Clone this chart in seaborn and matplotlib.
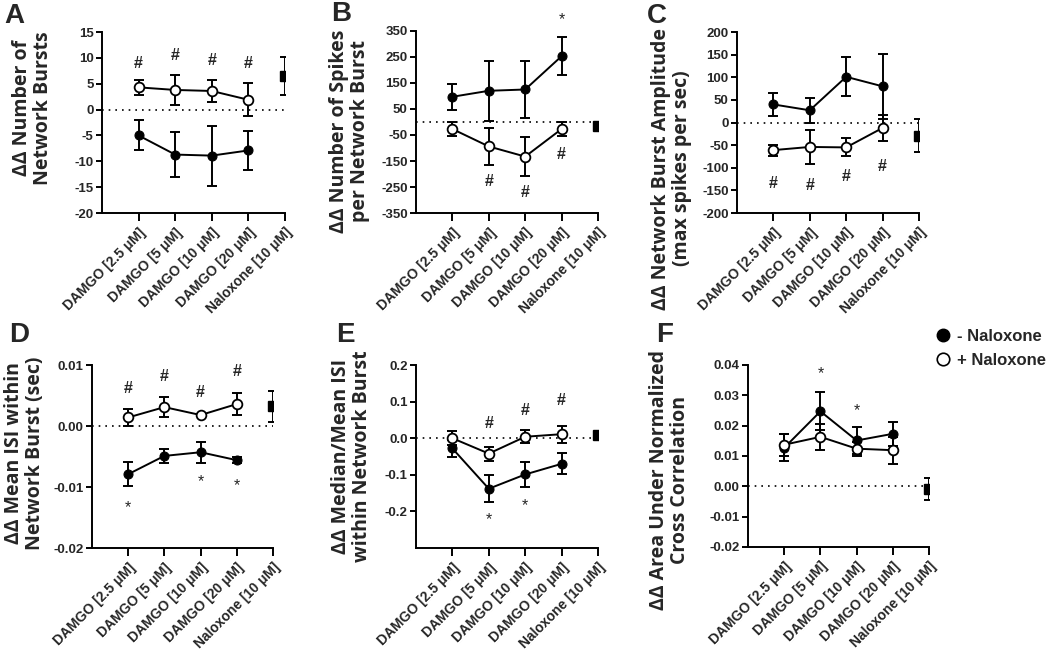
import numpy as np
import matplotlib
matplotlib.use("Agg")
import matplotlib.pyplot as plt
import matplotlib.transforms as mtransforms
from matplotlib.lines import Line2D
import seaborn as sns

# x categories
categories = ["DAMGO [2.5 μM]", "DAMGO [5 μM]", "DAMGO [10 μM]", "DAMGO [20 μM]", "Naloxone [10 μM]"]

# A - number of network bursts
a_minus = [-5.0, -8.7, -8.9, -7.9]
a_minus_err = [2.9, 4.4, 5.8, 3.8]
a_plus = [4.3, 3.8, 3.6, 1.9]
a_plus_err = [1.5, 2.95, 2.05, 3.15]
a_nal, a_nal_err = 6.5, 3.75

# B - spikes per network burst
b_minus = [97, 120, 125, 253]
b_minus_err = [49, 115, 108, 72]
b_plus = [-27, -94, -133, -27]
b_plus_err = [27, 71, 75, 28]
b_nal, b_nal_err = -15, 12

# C - network burst amplitude
c_minus = [40, 27, 101, 80]
c_minus_err = [25, 27, 43, 72]
c_plus = [-61, -54, -55, -12]
c_plus_err = [12, 38, 20, 29]
c_nal, c_nal_err = -29, 37

# D - mean ISI within network burst
d_minus = [-0.0079, -0.0049, -0.0043, -0.0056]
d_minus_err = [0.0020, 0.0011, 0.0017, 0.0005]
d_plus = [0.0014, 0.0031, 0.0018, 0.0036]
d_plus_err = [0.0014, 0.0016, 0.0002, 0.0018]
d_nal, d_nal_err = 0.0032, 0.0025

# E - median/mean ISI
e_minus = [-0.028, -0.138, -0.099, -0.070]
e_minus_err = [0.023, 0.037, 0.035, 0.029]
e_plus = [0.0, -0.042, 0.004, 0.011]
e_plus_err = [0.019, 0.019, 0.018, 0.023]
e_nal, e_nal_err = 0.009, 0.006

# F - area under normalized cross correlation
f_minus = [0.0127, 0.0247, 0.0151, 0.0173]
f_minus_err = [0.0045, 0.0063, 0.0043, 0.0039]
f_plus = [0.0137, 0.0163, 0.0124, 0.0119]
f_plus_err = [0.0037, 0.0042, 0.0023, 0.0044]
f_nal, f_nal_err = -0.0009, 0.0037

# significance marks (category index, y, symbol)
a_marks = [(0, 8.9, "#"), (1, 10.5, "#"), (2, 9.5, "#"), (3, 8.9, "#")]
b_marks = [(1, -229, "#"), (2, -271, "#"), (3, -126, "#"), (3, 392, "*")]
c_marks = [(0, -134, "#"), (1, -140, "#"), (2, -120, "#"), (3, -98, "#")]
d_marks = [(0, 0.0061, "#"), (1, 0.0081, "#"), (2, 0.0055, "#"), (3, 0.0089, "#"),
           (0, -0.0133, "*"), (2, -0.0091, "*"), (3, -0.0097, "*")]
e_marks = [(1, 0.040, "#"), (2, 0.077, "#"), (3, 0.103, "#"), (1, -0.222, "*"), (2, -0.183, "*")]
f_marks = [(1, 0.0372, "*"), (2, 0.0249, "*")]

sns.set_theme(style="ticks")
plt.rcParams["font.family"] = ["Liberation Sans", "DejaVu Sans"]
plt.rcParams["axes.unicode_minus"] = False

LABEL_FONT = ["Open Sans", "DejaVu Sans"]

panels = [
    dict(letter="A", minus=a_minus, minus_err=a_minus_err, plus=a_plus, plus_err=a_plus_err,
         nal=a_nal, nal_err=a_nal_err, marks=a_marks,
         ylim=(-20, 15), ticks=np.arange(-20, 16, 5), fmt="{:.0f}",
         ylabel="ΔΔ Number of\nNetwork Bursts",
         rect=[0.0971, 0.6728, 0.1743, 0.2780], lab=(-0.268, 0.58), let=(0.004, 0.995)),
    dict(letter="B", minus=b_minus, minus_err=b_minus_err, plus=b_plus, plus_err=b_plus_err,
         nal=b_nal, nal_err=b_nal_err, marks=b_marks,
         ylim=(-350, 350), ticks=np.arange(-350, 351, 100), fmt="{:.0f}",
         ylabel="ΔΔ Number of Spikes\nper Network Burst",
         rect=[0.3962, 0.6728, 0.1733, 0.2796], lab=(-0.253, 0.45), let=(0.315, 0.998)),
    dict(letter="C", minus=c_minus, minus_err=c_minus_err, plus=c_plus, plus_err=c_plus_err,
         nal=c_nal, nal_err=c_nal_err, marks=c_marks,
         ylim=(-200, 200), ticks=np.arange(-200, 201, 50), fmt="{:.0f}",
         ylabel="ΔΔ Network Burst Amplitude\n(max spikes per sec)",
         rect=[0.7019, 0.6728, 0.1733, 0.2780], lab=(-0.247, 0.245), let=(0.616, 0.995)),
    dict(letter="D", minus=d_minus, minus_err=d_minus_err, plus=d_plus, plus_err=d_plus_err,
         nal=d_nal, nal_err=d_nal_err, marks=d_marks,
         ylim=(-0.02, 0.01), ticks=[-0.02, -0.01, 0.0, 0.01], fmt="{:.2f}",
         ylabel="ΔΔ Mean ISI within\nNetwork Burst (sec)",
         rect=[0.0876, 0.1582, 0.1724, 0.2811], lab=(-0.26, 0.52), let=(0.009, 0.505)),
    dict(letter="E", minus=e_minus, minus_err=e_minus_err, plus=e_plus, plus_err=e_plus_err,
         nal=e_nal, nal_err=e_nal_err, marks=e_marks,
         ylim=(-0.3, 0.2), ticks=[-0.2, -0.1, 0.0, 0.1, 0.2], fmt="{:.1f}",
         ylabel="ΔΔ Median/Mean ISI\nwithin Network Burst",
         rect=[0.3962, 0.1582, 0.1733, 0.2811], lab=(-0.242, 0.50), let=(0.320, 0.505)),
    dict(letter="F", minus=f_minus, minus_err=f_minus_err, plus=f_plus, plus_err=f_plus_err,
         nal=f_nal, nal_err=f_nal_err, marks=f_marks,
         ylim=(-0.02, 0.04), ticks=[-0.02, -0.01, 0.0, 0.01, 0.02, 0.03, 0.04], fmt="{:.2f}",
         ylabel="ΔΔ Area Under Normalized\nCross Correlation",
         rect=[0.7124, 0.1598, 0.1724, 0.2796], lab=(-0.32, 0.37), let=(0.625, 0.505)),
]

fig = plt.figure(figsize=(10.5, 6.51), dpi=100)
# shift rotated tick labels a little right/down, as in the original layout
label_shift = mtransforms.ScaledTranslation(5 / 72, -3 / 72, fig.dpi_scale_trans)

for p in panels:
    ax = fig.add_axes(p["rect"])
    pos = np.arange(len(p["minus"]))

    ax.axhline(0, color="black", lw=1.2, ls=(0, (1, 3)), zorder=1)

    # - Naloxone (filled)
    ax.errorbar(pos, p["minus"], yerr=p["minus_err"], fmt="none", ecolor="black",
                elinewidth=1.4, capsize=3.5, capthick=1.4, zorder=2)
    sns.lineplot(x=pos, y=p["minus"], ax=ax, color="black", lw=1.4, marker="o",
                 markersize=6.5, markerfacecolor="black", markeredgecolor="black", zorder=3)
    # + Naloxone (open)
    ax.errorbar(pos, p["plus"], yerr=p["plus_err"], fmt="none", ecolor="black",
                elinewidth=1.4, capsize=3.5, capthick=1.4, zorder=4)
    sns.lineplot(x=pos, y=p["plus"], ax=ax, color="black", lw=1.4, marker="o",
                 markersize=7, markerfacecolor="white", markeredgecolor="black",
                 markeredgewidth=1.3, zorder=5)
    # Naloxone alone
    ax.errorbar([4], [p["nal"]], yerr=[p["nal_err"]], fmt="s", color="black", ms=7,
                elinewidth=1.4, capsize=3.5, capthick=1.4, zorder=5)

    for xi, yi, sym in p["marks"]:
        ax.text(xi, yi, sym, ha="center", va="center", fontsize=11.5,
                fontweight="bold" if sym == "#" else "normal", clip_on=False)

    ax.set_xlim(-1, 4)
    ax.set_ylim(*p["ylim"])
    ax.set_yticks(p["ticks"])
    ax.set_yticklabels([p["fmt"].format(t) for t in p["ticks"]], fontsize=9.5, fontweight="bold")
    ax.set_xticks(range(len(categories)))
    ax.set_xticklabels(categories, rotation=45, ha="right", rotation_mode="anchor",
                       fontsize=10, fontweight="bold")
    for lbl in ax.get_xticklabels():
        lbl.set_transform(lbl.get_transform() + label_shift)

    sns.despine(ax=ax)
    for s in ["left", "bottom"]:
        ax.spines[s].set_linewidth(1.4)
        ax.spines[s].set_color("black")
    ax.spines["bottom"].set_bounds(-1, 4)
    ax.tick_params(axis="x", length=6, width=1.4, color="black", pad=3)
    ax.tick_params(axis="y", length=4, width=1.4, color="black", pad=2)

    ax.set_ylabel(p["ylabel"], fontsize=14, fontweight="bold", family=LABEL_FONT,
                  linespacing=1.05)
    ax.yaxis.set_label_coords(*p["lab"])
    ax.set_xlabel("")

    fig.text(p["let"][0], p["let"][1], p["letter"], fontsize=20, fontweight="bold",
             ha="left", va="top")

handles = [
    Line2D([], [], ls="none", marker="o", ms=9, mfc="black", mec="black", label="- Naloxone"),
    Line2D([], [], ls="none", marker="o", ms=9, mfc="white", mec="black", mew=1.2, label="+ Naloxone"),
]
fig.legend(handles=handles, loc="upper left", bbox_to_anchor=(0.881, 0.507), frameon=False,
           prop={"weight": "bold", "size": 12}, handletextpad=0.2, labelspacing=0.5,
           handlelength=1.2, borderpad=0)

fig.savefig("out.png", dpi=100)
